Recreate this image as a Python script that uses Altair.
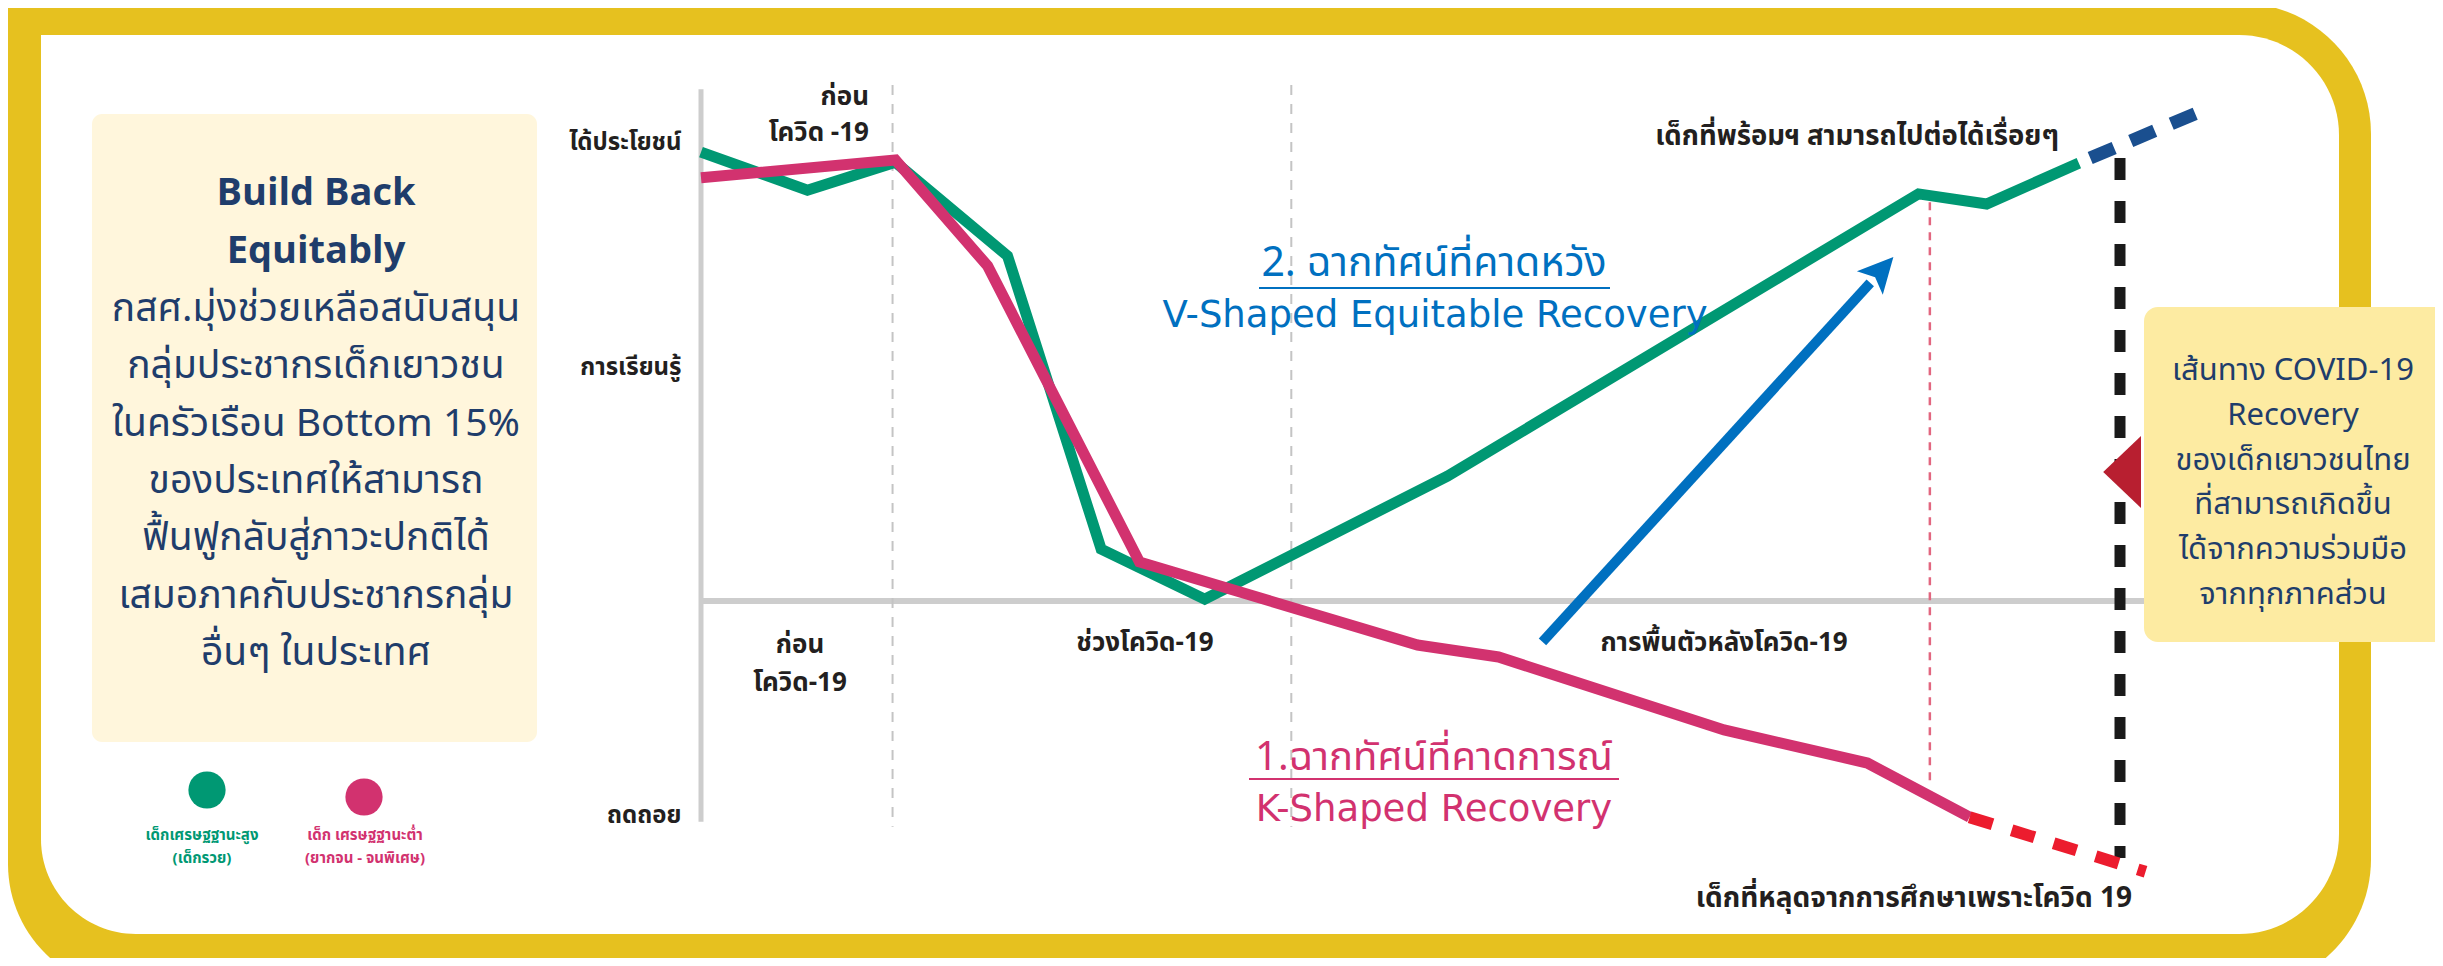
import altair as alt
import pandas as pd

# ---------------- data (time index t: 0 = start, 100 = today; learning level L: 0 = baseline) ----
green_t = [0.0, 7.5, 13.7, 21.6, 28.2, 35.5, 52.6, 85.8, 90.6, 97.1]
green_l = [97.8, 89.5, 95.6, 75.2, 11.3, 0.4, 27.2, 88.7, 86.5, 95.4]
pink_t = [0.0, 13.7, 20.2, 30.9, 50.5, 56.2, 72.1, 82.2, 89.4]
pink_l = [92.2, 96.1, 73.0, 8.5, -9.6, -12.2, -28.1, -35.3, -47.1]
drop_t = [89.4, 101.8]
drop_l = [-47.1, -59.0]
ready_t = [97.9, 105.4]
ready_l = [96.5, 106.3]
arrow_t = [59.3, 82.4]
arrow_l = [-8.9, 69.3]
arrow_head_t = [83.2]
arrow_head_l = [72.1]
period_t = [13.5, 41.6]
ytick_values = [100, 50.8, -46.8]
ytick_labels = ["ได้ประโยชน์", "การเรียนรู้", "ถดถอย"]

left_title = ["Build Back", "Equitably"]
left_body = ["กสศ.มุ่งช่วยเหลือสนับสนุน", "กลุ่มประชากรเด็กเยาวชน", "ในครัวเรือน Bottom 15%",
             "ของประเทศให้สามารถ", "ฟื้นฟูกลับสู่ภาวะปกติได้", "เสมอภาคกับประชากรกลุ่ม",
             "อื่นๆ ในประเทศ"]
right_body = ["เส้นทาง COVID-19", "Recovery", "ของเด็กเยาวชนไทย", "ที่สามารถเกิดขึ้น",
              "ได้จากความร่วมมือ", "จากทุกภาคส่วน"]

# ---------------- layout ----------------
W, H = 2427, 950
OX = 8
T0_PX, KT = 693.0, 14.19
L0_PX, KL = 593.0, 4.59
xs = alt.Scale(domain=[-T0_PX / KT, (W - T0_PX) / KT], nice=False, zero=False)
ys = alt.Scale(domain=[-(H - L0_PX) / KL, L0_PX / KL], nice=False, zero=False)

FONT = "'Noto Sans Thai', 'Noto Sans', sans-serif"
LATIN = "'DejaVu Sans', sans-serif"
GREEN = "#009873"
PINK = "#d2326f"
BLUE = "#0070c0"
NAVY = "#1f3d6b"
DARK = "#231f20"
YEL = "#e6c11f"

label_expr = " : ".join(
    f"datum.value == {v} ? '{s}'" for v, s in zip(ytick_values[:-1], ytick_labels[:-1])
) + f" : '{ytick_labels[-1]}'"
yaxis = alt.Axis(values=ytick_values, labelExpr=label_expr, domain=False, ticks=False, grid=False,
                 offset=-T0_PX, labelPadding=20, labelFontSize=24, labelFontWeight="bold",
                 labelFont=FONT, labelColor=DARK, title=None, zindex=1)

X = lambda f: alt.X(f, type="quantitative", scale=xs, axis=None)
Y = lambda f: alt.Y(f, type="quantitative", scale=ys, axis=yaxis)

ONE = alt.Data(values=[{"k": 0}])


def v(p):
    return alt.value(p - OX)


def box(x0, x1, y0, y1, **kw):
    return alt.Chart(ONE).mark_rect(**kw).encode(x=v(x0), x2=v(x1), y=v(y0), y2=v(y1))


def txt(s, x, y, size, color, weight="normal", align="center", font=FONT):
    return alt.Chart(ONE).mark_text(text=s, align=align, baseline="middle", fontSize=size,
                                    fontWeight=weight, color=color, font=font).encode(x=v(x), y=v(y))


def series(ts, ls):
    return pd.DataFrame({"t": ts, "L": ls, "i": range(len(ts))})


layers = []
# frame: yellow outer shape with a white inner shape
layers.append(box(8, 2371, 3, 990, fill=YEL, cornerRadiusTopLeft=0, cornerRadiusTopRight=131,
                  cornerRadiusBottomRight=131, cornerRadiusBottomLeft=126))
layers.append(box(41, 2339, 35, 934, fill="white", cornerRadiusTopLeft=0, cornerRadiusTopRight=100,
                  cornerRadiusBottomRight=100, cornerRadiusBottomLeft=95))
# boxes
layers.append(box(92, 537, 114, 742, fill="#fff6dc", cornerRadius=10))

# axis lines
layers.append(alt.Chart(series([0], [111.5])).mark_rule(color="#cdcdcd", strokeWidth=5).encode(
    x=X("t"), y=Y("L"), y2=alt.datum(-48.1)))
layers.append(alt.Chart(series([0], [0])).mark_rule(color="#cdcdcd", strokeWidth=6).encode(
    x=X("t"), x2=alt.datum(102.5), y=Y("L")))
# period dashed lines
per = pd.DataFrame({"t": period_t})
layers.append(alt.Chart(per).mark_rule(color="#c4c4c4", strokeWidth=2, strokeDash=[10, 9]).encode(
    x=X("t"), y=alt.datum(112.4), y2=alt.datum(-49.2)))
layers.append(alt.Chart(series([86.6], [86.9])).mark_rule(color="#e2667f", strokeWidth=2.5, strokeDash=[8, 7]).encode(
    x=X("t"), y=Y("L"), y2=alt.datum(-39.7)))
# right box
layers.append(box(2144, 2470, 307, 642, fill="#fdeba2", cornerRadius=14))
# black dashed "now"
layers.append(alt.Chart(series([100], [96.5])).mark_rule(color="#1a1a1a", strokeWidth=11, strokeDash=[22, 21]).encode(
    x=X("t"), y=Y("L"), y2=alt.datum(-56)))

# lines
layers.append(alt.Chart(series(green_t, green_l)).mark_line(color=GREEN, strokeWidth=11).encode(
    x=X("t"), y=Y("L"), order="i:Q"))
layers.append(alt.Chart(series(pink_t, pink_l)).mark_line(color=PINK, strokeWidth=11).encode(
    x=X("t"), y=Y("L"), order="i:Q"))
layers.append(alt.Chart(series(drop_t, drop_l)).mark_line(color="#ec1c2e", strokeWidth=12, strokeDash=[24, 20]).encode(
    x=X("t"), y=Y("L"), order="i:Q"))
layers.append(alt.Chart(series(ready_t, ready_l)).mark_line(color="#1a4f8f", strokeWidth=13, strokeDash=[26, 18]).encode(
    x=X("t"), y=Y("L"), order="i:Q"))
# blue arrow
layers.append(alt.Chart(series(arrow_t, arrow_l)).mark_line(color=BLUE, strokeWidth=10).encode(
    x=X("t"), y=Y("L"), order="i:Q"))
layers.append(alt.Chart(series(arrow_head_t, arrow_head_l)).mark_point(
    shape="M0,-1L1,1L0,0.55L-1,1Z", filled=True, fill=BLUE, opacity=1, size=1225, angle=42.3, strokeWidth=0).encode(
    x=X("t"), y=Y("L")))
# red pointer
layers.append(alt.Chart(ONE).mark_point(shape="M0.5,-1L0.5,1L-0.55,0Z", filled=True, fill="#b81f30",
                                        opacity=1, size=5184, strokeWidth=0).encode(x=v(2123), y=v(472)))

# legend
layers.append(alt.Chart(ONE).mark_circle(color=GREEN, size=1385, opacity=1).encode(x=v(207), y=v(790)))
layers.append(alt.Chart(ONE).mark_circle(color=PINK, size=1385, opacity=1).encode(x=v(364), y=v(797)))
layers += [txt("เด็กเศรษฐฐานะสูง", 202, 835, 15, GREEN, "bold"),
           txt("(เด็กรวย)", 202, 858, 15, GREEN, "bold"),
           txt("เด็ก เศรษฐฐานะต่ำ", 365, 835, 15, PINK, "bold"),
           txt("(ยากจน - จนพิเศษ)", 365, 858, 15, PINK, "bold")]

# left box text
for i, s in enumerate(left_title):
    layers.append(txt(s, 316, 194 + 58 * i, 38, NAVY, "bold"))
for i, s in enumerate(left_body):
    layers.append(txt(s, 316, 309 + 57.3 * i, 39, NAVY))
# right box text
for i, s in enumerate(right_body):
    layers.append(txt(s, 2293, 371 + 44.8 * i, 31, NAVY))

# chart labels
layers += [txt("ก่อน", 869, 97, 26, DARK, "bold", "right"),
           txt("โควิด -19", 869, 133, 26, DARK, "bold", "right"),
           txt("ก่อน", 800, 645, 26, DARK, "bold"),
           txt("โควิด-19", 800, 683, 26, DARK, "bold"),
           txt("ช่วงโควิด-19", 1145, 643, 26, DARK, "bold"),
           txt("การพื้นตัวหลังโควิด-19", 1724, 643, 26, DARK, "bold"),
           txt("เด็กที่พร้อมฯ สามารถไปต่อได้เรื่อยๆ", 2059, 137, 27.5, DARK, "bold", "right"),
           txt("เด็กที่หลุดจากการศึกษาเพราะโควิด 19", 2132, 899, 28, DARK, "bold", "right"),
           txt("2. ฉากทัศน์ที่คาดหวัง", 1434, 264, 41, BLUE),
           txt("V-Shaped Equitable Recovery", 1435, 316, 37, BLUE, font=LATIN),
           txt("1.ฉากทัศน์ที่คาดการณ์", 1434, 758, 40, PINK),
           txt("K-Shaped Recovery", 1434, 810, 37, PINK, font=LATIN)]
layers.append(alt.Chart(ONE).mark_rule(color=BLUE, strokeWidth=2).encode(x=v(1259), x2=v(1610), y=v(288)))
layers.append(alt.Chart(ONE).mark_rule(color=PINK, strokeWidth=2).encode(x=v(1249), x2=v(1619), y=v(779)))

chart = alt.layer(*layers).properties(
    width=W, height=H, autosize=alt.AutoSizeParams(type="none"), padding=0, background="white"
).configure_view(strokeWidth=0)

chart.save("out.html", embed_options={"renderer": "svg", "actions": False})
